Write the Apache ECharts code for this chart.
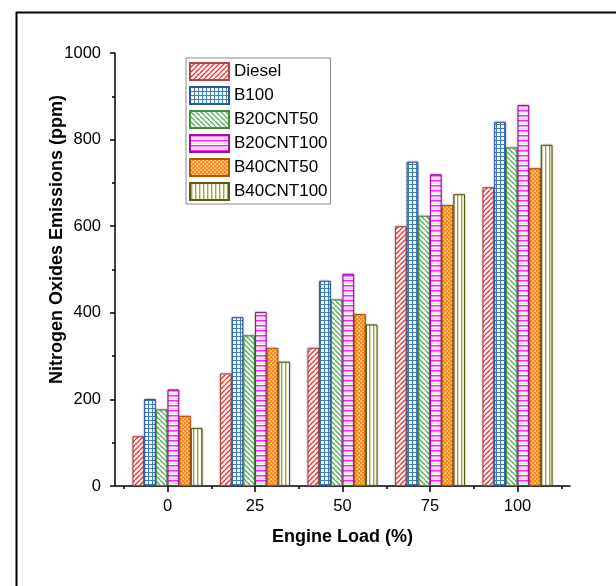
<!DOCTYPE html>
<html>
<head>
<meta charset="utf-8">
<script src="https://cdn.jsdelivr.net/npm/echarts@6/dist/echarts.min.js"></script>
<style>
html,body{margin:0;padding:0;background:#fff;}
#chart{width:616px;height:586px;}
</style>
</head>
<body>
<div id="chart"></div>
<script>
// ---- data ----
const categories = [0, 25, 50, 75, 100];
const xMinorTicks = [-12.5, 12.5, 37.5, 62.5, 87.5, 112.5];
const seriesNames = ['Diesel', 'B100', 'B20CNT50', 'B20CNT100', 'B40CNT50', 'B40CNT100'];
const diesel    = [115, 260, 319, 600, 690];
const b100      = [201, 390, 474, 749, 841];
const b20cnt50  = [177, 348, 431, 624, 782];
const b20cnt100 = [223, 402, 490, 720, 880];
const b40cnt50  = [162, 319, 397, 649, 734];
const b40cnt100 = [134, 287, 373, 674, 788];
const yTicks = [0, 200, 400, 600, 800, 1000];

// ---- patterns ----
function tile(w, h, draw) {
  const c = document.createElement('canvas');
  c.width = w; c.height = h;
  const g = c.getContext('2d');
  g.fillStyle = '#fff'; g.fillRect(0, 0, w, h);
  draw(g, w, h);
  return { image: c, repeat: 'repeat' };
}
function diag(color, p, dir, lw) {
  return tile(p, p, (g) => {
    g.strokeStyle = color; g.lineWidth = lw;
    for (let k = -1; k <= 1; k++) {
      g.beginPath();
      if (dir > 0) { g.moveTo(k * p, p); g.lineTo(k * p + p, 0); }
      else { g.moveTo(k * p, 0); g.lineTo(k * p + p, p); }
      g.stroke();
    }
  });
}
const patDiesel = diag('#ff2a2a', 5, 1, 1.3);
const patB20CNT50 = diag('#55b455', 5, -1, 1.3);
const patB100 = tile(4, 4, (g) => {
  g.fillStyle = '#3f7fc6';
  g.fillRect(0, 0, 4, 1);
  g.fillRect(0, 0, 1, 4);
});
const patB20CNT100 = tile(5, 5, (g) => {
  g.fillStyle = '#ff22ff'; g.fillRect(0, 0, 5, 1);
  g.fillStyle = '#ff88ff'; g.fillRect(0, 1, 5, 1);
  g.fillStyle = '#ffd0ff'; g.fillRect(0, 3, 5, 1);
});
const patB40CNT50 = tile(4, 4, (g) => {
  g.fillStyle = '#ff8a1c'; g.fillRect(0, 0, 4, 4);
  g.fillStyle = '#fff';
  g.fillRect(0.5, 0.5, 1.3, 1.3);
  g.fillRect(2.5, 2.5, 1.3, 1.3);
});
const patB40CNT100 = tile(4, 4, (g) => {
  g.fillStyle = '#a8a838'; g.fillRect(1, 0, 1.4, 4);
});

const seriesData = [diesel, b100, b20cnt50, b20cnt100, b40cnt50, b40cnt100];
const fills = [patDiesel, patB100, patB20CNT50, patB20CNT100, patB40CNT50, patB40CNT100];
const borders = ['#b04848', '#285a98', '#3f8f3f', '#a010a0', '#b05800', '#5a5a10'];

const font = 'Arial, "Liberation Sans", sans-serif';
const chart = echarts.init(document.getElementById('chart'), null, { renderer: 'canvas' });

const series = seriesNames.map((name, i) => ({
  name: name,
  type: 'bar',
  xAxisIndex: 0,
  yAxisIndex: 0,
  barWidth: 11.67,
  barGap: '0%',
  data: categories.map((c, j) => [c, seriesData[i][j]]),
  itemStyle: {
    color: fills[i],
    borderColor: borders[i],
    borderWidth: 1,
    shadowColor: 'rgba(0,0,0,0.35)',
    shadowBlur: 2
  },
  emphasis: { disabled: true },
  animation: false
}));

chart.setOption({
  animation: false,
  backgroundColor: '#fff',
  grid: { left: 115, right: 46, top: 53, bottom: 100 },
  legend: {
    data: seriesNames,
    orient: 'vertical',
    left: 186,
    top: 58,
    padding: [4, 3, 3, 3],
    itemWidth: 39,
    itemHeight: 17,
    itemGap: 5,
    icon: 'rect',
    borderColor: '#8a8a8a',
    borderWidth: 1,
    backgroundColor: '#fff',
    selectedMode: false,
    textStyle: { fontSize: 17, color: '#000', fontFamily: font }
  },
  xAxis: [
    {
      type: 'value',
      min: -15,
      max: 115,
      position: 'bottom',
      name: 'Engine Load (%)',
      nameLocation: 'middle',
      nameGap: 42,
      nameMoveOverlap: false,
      nameTextStyle: { fontSize: 18, fontWeight: 'bold', color: '#000', fontFamily: font },
      axisLine: { show: true, onZero: false, lineStyle: { color: '#000', width: 1.5 } },
      axisTick: { show: true, inside: false, length: 6, customValues: categories, lineStyle: { color: '#000', width: 1.5 } },
      axisLabel: { show: true, customValues: categories, fontSize: 16.5, color: '#000', margin: 12, fontFamily: font,
        formatter: (v) => String(v) },
      splitLine: { show: false }
    },
    {
      type: 'value',
      min: -15,
      max: 115,
      position: 'bottom',
      offset: 0,
      axisLine: { show: false, onZero: false },
      axisTick: { show: true, inside: false, length: 3, customValues: xMinorTicks, lineStyle: { color: '#000', width: 1.5 } },
      axisLabel: { show: false },
      splitLine: { show: false }
    }
  ],
  yAxis: {
    type: 'value',
    min: 0,
    max: 1000,
    interval: 200,
    position: 'left',
    name: 'Nitrogen Oxides Emissions (ppm)',
    nameLocation: 'middle',
    nameRotate: 90,
    nameGap: 49,
    nameMoveOverlap: false,
    nameTextStyle: { fontSize: 18, fontWeight: 'bold', color: '#000', fontFamily: font,
      padding: [0, 0, 0, 60] },
    axisLine: { show: true, onZero: false, lineStyle: { color: '#000', width: 1.5 } },
    axisTick: { show: true, inside: false, length: 5, lineStyle: { color: '#000', width: 1.5 } },
    minorTick: { show: true, splitNumber: 2, length: 3, lineStyle: { color: '#000', width: 1.5 } },
    axisLabel: { fontSize: 16.5, color: '#000', margin: 14, fontFamily: font,
      formatter: (v) => String(v) },
    splitLine: { show: false }
  },
  graphic: [
    {
      type: 'rect',
      left: 14, top: 10,
      shape: { x: 0, y: 0, width: 700, height: 700 },
      style: { fill: 'none', stroke: '#000', lineWidth: 2 },
      silent: true,
      z: 100
    }
  ],
  series: series
});
</script>
</body>
</html>
